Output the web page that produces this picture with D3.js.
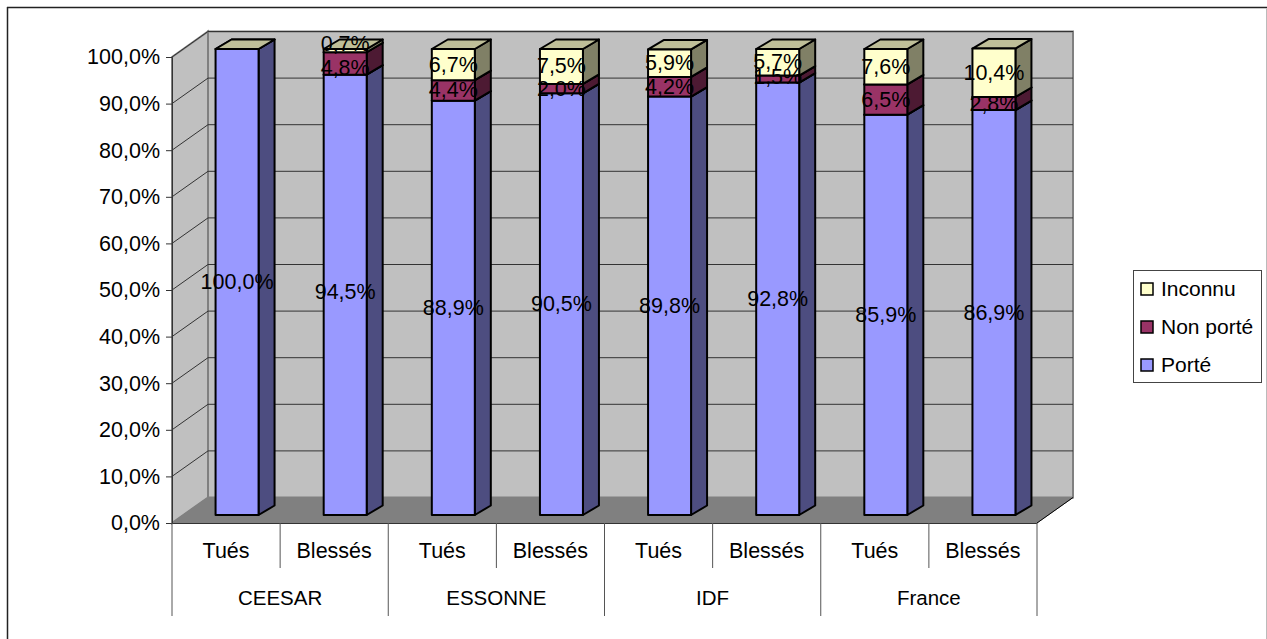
<!Doctype html>
<html>
<head>
  <meta charset="utf-8">
  <title>Port de la ceinture</title>
  <style>
    html,body{margin:0;padding:0;background:#fff;overflow:hidden;}
    svg{display:block;}
    text{font-family:"Liberation Sans",Arial,sans-serif;fill:#000;}
  </style>
</head>
<body>
  <div id="container"></div>
  <script src="https://cdn.jsdelivr.net/npm/d3@7/dist/d3.min.js"></script>
  <script>
  var categories = ["Tués","Blessés","Tués","Blessés","Tués","Blessés","Tués","Blessés"];
  var groups = ["CEESAR","ESSONNE","IDF","France"];
  var porte = [100.0,94.5,88.9,90.5,89.8,92.8,85.9,86.9];
  var nonPorte = [0,4.8,4.4,2.0,4.2,1.5,6.5,2.8];
  var inconnu = [0,0.7,6.7,7.5,5.9,5.7,7.6,10.4];
  var yTicks = [0,10,20,30,40,50,60,70,80,90,100];
  var seriesNames = ["Porté","Non porté","Inconnu"];

  var width = 1267, height = 639;
  // front plane of the 3d box and the shift to its back wall
  var front = {left:172, right:1037, top:57, bottom:523};
  var depth = {x:36, y:-25.5};
  // bars sit between the two planes, with their own shallower depth
  var barDepth = {x:16, y:-9.5};
  var barShift = {x:11, y:-8};

  var colors = {
    "Porté":{front:"#9999ff",side:"#4d4d80",top:"#7a7acc"},
    "Non porté":{front:"#993366",side:"#4d1a33",top:"#732650"},
    "Inconnu":{front:"#ffffcc",side:"#808066",top:"#bfbf99"}
  };

  var svg = d3.select("#container").append("svg")
      .attr("width", width)
      .attr("height", height);

  // outer frame: dark top and left, pale right, nothing along the bottom
  svg.append("line").attr("x1",7).attr("x2",width).attr("y1",7.5).attr("y2",7.5)
      .attr("stroke","#222").attr("stroke-width",1.5);
  svg.append("line").attr("x1",7.5).attr("x2",7.5).attr("y1",7).attr("y2",height)
      .attr("stroke","#222").attr("stroke-width",1.5);
  svg.append("line").attr("x1",1266.5).attr("x2",1266.5).attr("y1",8).attr("y2",height)
      .attr("stroke","#bbb").attr("stroke-width",1);

  var xScale = d3.scaleBand()
      .domain(d3.range(categories.length))
      .range([front.left, front.right])
      .paddingInner(0).paddingOuter(0);

  var yScale = d3.scaleLinear().domain([0,100]).range([front.bottom, front.top]);

  var decimalComma = d3.formatLocale({decimal:",",thousands:" ",grouping:[3],currency:["","€"]});
  var pct = function(d){ return decimalComma.format(".1f")(d)+"%"; };

  function pts(list){ return list.map(function(p){return p.join(",");}).join(" "); }

  // ---- box: back wall, side wall, floor
  var box = svg.append("g");
  var b = front, dx = depth.x, dy = depth.y;

  box.append("polygon")
      .attr("points", pts([[b.left+dx,b.top+dy],[b.right+dx,b.top+dy],[b.right+dx,b.bottom+dy],[b.left+dx,b.bottom+dy]]))
      .attr("fill","#c0c0c0").attr("stroke","#808080").attr("stroke-width",2);
  box.append("polygon")
      .attr("points", pts([[b.left,b.top],[b.left+dx,b.top+dy],[b.left+dx,b.bottom+dy],[b.left,b.bottom]]))
      .attr("fill","#c0c0c0").attr("stroke","#808080").attr("stroke-width",2);
  box.append("polygon")
      .attr("points", pts([[b.left,b.bottom],[b.left+dx,b.bottom+dy],[b.right+dx,b.bottom+dy],[b.right,b.bottom]]))
      .attr("fill","#808080").attr("stroke","#808080").attr("stroke-width",1);

  // gridlines run along the side wall then across the back wall
  box.selectAll(".grid").data(yTicks.filter(function(d){return d>0;})).enter().append("polyline")
      .attr("class","grid")
      .attr("points", function(d){
        var y = yScale(d);
        return pts([[b.left,y],[b.left+dx,y+dy],[b.right+dx,y+dy]]);
      })
      .attr("fill","none").attr("stroke","#333").attr("stroke-width",1);

  box.append("line")
      .attr("x1",b.right).attr("y1",b.bottom).attr("x2",b.right+dx).attr("y2",b.bottom+dy)
      .attr("stroke","#000").attr("stroke-width",1);

  // ---- stacked bars
  var rows = porte.map(function(d,i){
    return {"Porté":d,"Non porté":nonPorte[i],"Inconnu":inconnu[i]};
  });
  var stacked = d3.stack().keys(seriesNames)(rows);
  var barWidth = 43;

  function barLeft(i){ return xScale(i) + (xScale.bandwidth()-barWidth)/2 + barShift.x; }

  var bars = svg.append("g").attr("stroke","#000").attr("stroke-width",2).attr("stroke-linejoin","round");

  stacked.forEach(function(s){
    var c = colors[s.key];
    s.forEach(function(d,i){
      if(d[1]-d[0] <= 0) return;
      var x0 = barLeft(i), x1 = x0+barWidth,
          y0 = yScale(d[0])+barShift.y, y1 = yScale(d[1])+barShift.y;
      var g = bars.append("g");
      g.append("polygon")
        .attr("points",pts([[x1,y0],[x1+barDepth.x,y0+barDepth.y],[x1+barDepth.x,y1+barDepth.y],[x1,y1]]))
        .attr("fill",c.side);
      g.append("polygon")
        .attr("points",pts([[x0,y1],[x0+barDepth.x,y1+barDepth.y],[x1+barDepth.x,y1+barDepth.y],[x1,y1]]))
        .attr("fill",c.top);
      g.append("rect")
        .attr("x",x0).attr("y",y1).attr("width",barWidth).attr("height",y0-y1)
        .attr("fill",c.front);
    });
  });

  // the 100% bar has no upper segment but still shows the pale cap
  bars.append("polygon")
      .attr("points",function(){
        var x0 = barLeft(0), x1 = x0+barWidth, y = yScale(porte[0])+barShift.y;
        return pts([[x0,y],[x0+barDepth.x,y+barDepth.y],[x1+barDepth.x,y+barDepth.y],[x1,y]]);
      })
      .attr("fill",colors["Inconnu"].top);

  // ---- value labels, the crowded second bar gets pulled apart by hand
  var labelNudge = {"1-Porté":-3,"1-Non porté":5,"1-Inconnu":-7,"5-Non porté":-2};
  var labels = svg.append("g").attr("font-size",21.5).attr("text-anchor","middle");
  stacked.forEach(function(s){
    s.forEach(function(d,i){
      var v = d[1]-d[0];
      if(v <= 0) return;
      labels.append("text")
        .attr("x",barLeft(i)+barWidth/2)
        .attr("y",yScale((d[0]+d[1])/2)+barShift.y+7+(labelNudge[i+"-"+s.key]||0))
        .text(pct(s.key=="Porté"?porte[i]:s.key=="Non porté"?nonPorte[i]:inconnu[i]));
    });
  });

  // ---- value axis
  var yAxis = d3.axisLeft(yScale).tickValues(yTicks).tickFormat(pct).tickSize(6).tickPadding(6);
  var yG = svg.append("g").attr("transform","translate("+b.left+",0)").call(yAxis);
  yG.selectAll("text").style("font-size","21.5px").style("font-family",'"Liberation Sans"').attr("fill","#000");
  yG.selectAll("line").attr("stroke","#333");
  yG.select(".domain").attr("stroke","#333");

  // ---- two level category axis
  var catAxis = svg.append("g").attr("stroke-linecap","butt");
  catAxis.append("line")
      .attr("x1",b.left).attr("x2",b.right).attr("y1",b.bottom+.5).attr("y2",b.bottom+.5)
      .attr("stroke","#333");
  d3.range(categories.length+1).forEach(function(i){
    var x = b.left + i*xScale.bandwidth();
    catAxis.append("line")
      .attr("x1",x).attr("x2",x).attr("y1",b.bottom)
      .attr("y2",i%2==0 ? 616 : 568)
      .attr("stroke","#555");
  });
  catAxis.selectAll(".cat").data(categories).enter().append("text")
      .attr("class","cat").attr("text-anchor","middle").attr("font-size",21.5)
      .attr("x",function(d,i){return xScale(i)+xScale.bandwidth()/2;})
      .attr("y",558)
      .text(function(d){return d;});
  catAxis.selectAll(".grp").data(groups).enter().append("text")
      .attr("class","grp").attr("text-anchor","middle").attr("font-size",20.5)
      .attr("x",function(d,i){return xScale(i*2)+xScale.bandwidth();})
      .attr("y",605)
      .text(function(d){return d;});

  // ---- legend, top entry is the top of the stack
  var legend = svg.append("g");
  legend.append("rect")
      .attr("x",1133.5).attr("y",270.5).attr("width",128).attr("height",112)
      .attr("fill","#fff").attr("stroke","#444");
  seriesNames.slice().reverse().forEach(function(name,i){
    var y = 289+i*38;
    legend.append("rect")
      .attr("x",1141).attr("y",y-6).attr("width",12).attr("height",12)
      .attr("fill",colors[name].front).attr("stroke","#000").attr("stroke-width",1.5);
    legend.append("text")
      .attr("x",1161).attr("y",y+7).attr("font-size",21)
      .text(name);
  });
  </script>
</body>
</html>
